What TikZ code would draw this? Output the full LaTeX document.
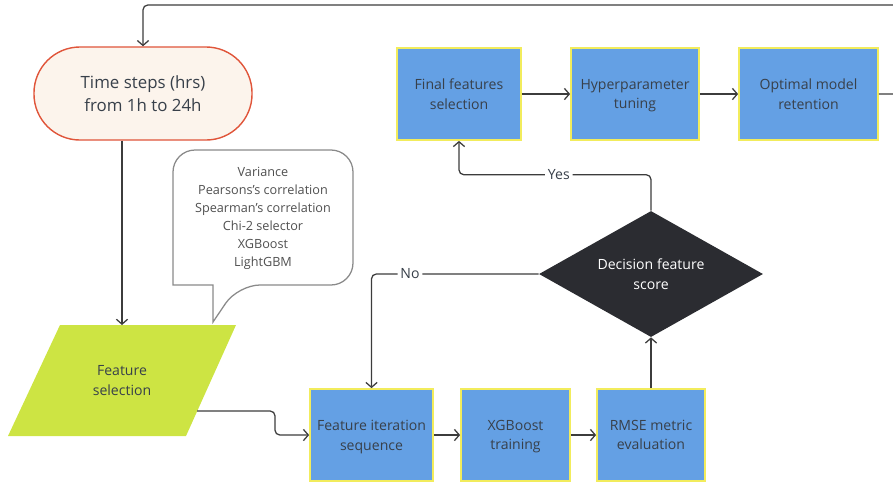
\documentclass[tikz,border=0pt]{standalone}
\usepackage{fontspec}
\setmainfont{Open Sans}
\usetikzlibrary{shapes.geometric,arrows.meta}
\definecolor{boxblue}{HTML}{64A0E4}
\definecolor{boxedge}{HTML}{F2EC5C}
\definecolor{limegreen}{HTML}{CDE443}
\definecolor{termfill}{HTML}{FCF4EC}
\definecolor{termedge}{HTML}{E0553A}
\definecolor{decfill}{HTML}{2B2C31}
\definecolor{linegray}{HTML}{3C3C3C}
\definecolor{txtgray}{HTML}{38404A}
\definecolor{callgray}{HTML}{8A8A8A}
\definecolor{calltxt}{HTML}{505050}
\tikzset{
  procbox/.style={draw=boxedge,fill=boxblue,line width=1.2pt,minimum height=2.3cm,
    align=center,text=txtgray,inner sep=2pt,font=\fontsize{10}{14}\selectfont},
  flow/.style={draw=linegray,line width=.9pt,rounded corners=.12cm},
  flowlabel/.style={fill=white,inner sep=2pt,text=txtgray,font=\fontsize{10}{12}\selectfont}
}
\begin{document}
\begin{tikzpicture}[x=.025cm,y=-.025cm,>={Straight Barb[length=3.5pt,width=8pt]}]
            \useasboundingbox (0,0) rectangle (893,483);
            % start and input
            \node[draw=termedge,fill=termfill,line width=1pt,rounded corners=1.15cm,
                minimum width=5.45cm,minimum height=2.325cm,align=center,text=txtgray,
                font=\fontsize{12}{16.4}\selectfont] (term) at (143,93.5) {Time steps (hrs)\\from 1h to 24h};
            \fill[limegreen] (8,436) -- (60,325) -- (236,325) -- (186,436) -- cycle;
            \node[align=center,text=txtgray,font=\fontsize{10}{14}\selectfont] (fsel) at (122,380.5) {Feature\\selection};
            \coordinate (fseltop) at (122,325);
            \coordinate (fselout) at (197,411);
            % methods bubble
            \draw[draw=callgray,fill=white,line width=.9pt] (213,322) -- (213,285) -- (173,285)
                [rounded corners=.55cm] -- (173,150) -- (353,150) -- (353,285) -- (238,285) [sharp corners] -- cycle;
            \node[align=center,text=calltxt,font=\fontsize{9}{12.8}\selectfont] (methods) at (263,218)
                {Variance\\Pearsons's correlation\\Spearman's correlation\\Chi-2 selector\\XGBoost\\LightGBM};
            % process boxes
            \node[procbox,minimum width=3.1cm] (final) at (459,94) {Final features\\selection};
            \node[procbox,minimum width=3.2cm] (hyper) at (635,94) {Hyperparameter\\\smash{tuning}};
            \node[procbox,minimum width=3.475cm] (optimal) at (808.5,94) {Optimal model\\retention};
            \node[procbox,minimum width=3.075cm] (iter) at (371.5,435) {Feature iteration\\\smash{sequence}};
            \node[procbox,minimum width=2.725cm] (xgb) at (515.5,435) {XGBoost\\\smash{training}};
            \node[procbox,minimum width=2.7cm] (rmse) at (651,435) {RMSE metric\\evaluation};
            \node[diamond,aspect=1.78,fill=decfill,minimum width=5.6cm,minimum height=3.15cm,inner sep=0pt,
                align=center,text=white,font=\fontsize{10}{14}\selectfont] (dec) at (651,274) {Decision feature\\score};
            % connectors
            \draw[flow,->] (fseltop |- term.south) -- (fseltop);
            \draw[flow,->] (fselout) -- ++(78,0) |- (iter.west);
            \draw[flow,->] (iter) -- (xgb);
            \draw[flow,->] (xgb) -- (rmse);
            \draw[flow,->] (rmse) -- (dec);
            \draw[flow,->] (dec.north) -- ++(0,-36) -| node[flowlabel,pos=.24] {Yes} (final.south);
            \draw[flow,->] (dec.west) -| node[flowlabel,pos=.385] {No} (iter.north);
            \draw[flow,->] (final) -- (hyper);
            \draw[flow,->] (hyper) -- (optimal);
            \draw[flow,->] (optimal.east) -- (915,94) -- (915,5) -| (term.north);
        \end{tikzpicture}
\end{document}
